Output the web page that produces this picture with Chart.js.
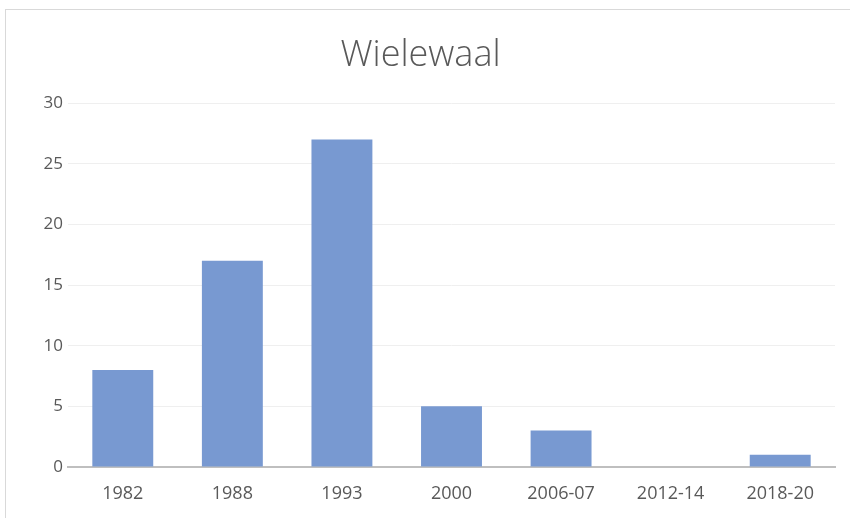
<!DOCTYPE html>
<html>
<head>
<meta charset="utf-8">
<script src="https://cdn.jsdelivr.net/npm/chart.js@4"></script>
<style>
  html, body { margin: 0; padding: 0; background: #fff; }
  #wrap {
    position: absolute; left: 5px; top: 9px;
    width: 845px; height: 509px;
    border-top: 1px solid #d9d9d9; border-left: 1px solid #d9d9d9;
    box-sizing: border-box;
  }
</style>
</head>
<body>
<div id="wrap"><canvas id="chart" width="844" height="508"></canvas></div>
<script>
// data
const periods = ['1982', '1988', '1993', '2000', '2006-07', '2012-14', '2018-20'];
const counts = [8, 17, 27, 5, 3, 0, 1];
const yTicks = [0, 5, 10, 15, 20, 25, 30];

const ctx = document.getElementById('chart').getContext('2d');
new Chart(ctx, {
  type: 'bar',
  data: {
    labels: periods,
    datasets: [{
      label: 'Wielewaal',
      data: counts,
      backgroundColor: '#7899d1',
      borderWidth: 0,
      barPercentage: 0.556,
      categoryPercentage: 1
    }]
  },
  options: {
    responsive: false,
    animation: false,
    layout: { padding: { left: 0, right: 15, top: 0, bottom: 0 } },
    plugins: {
      legend: { display: false },
      tooltip: { enabled: false },
      title: {
        display: true,
        text: 'Wielewaal',
        color: '#595959',
        font: { family: 'Open Sans', size: 36, weight: '300' },
        padding: { top: 24, bottom: 26 }
      }
    },
    scales: {
      x: {
        grid: { display: false, drawTicks: false },
        border: { display: true, color: '#bfbfbf', width: 2 },
        ticks: { color: '#595959', font: { family: 'Open Sans', size: 18 }, padding: 16 },
        afterFit: s => { s.height = 51; }
      },
      y: {
        min: 0, max: 30,
        afterBuildTicks: s => { s.ticks = yTicks.map(v => ({ value: v })); },
        grid: { color: '#efefef', drawTicks: false },
        border: { display: false },
        ticks: { color: '#595959', font: { family: 'Open Sans', size: 17 }, padding: 5 },
        afterFit: s => { s.width = 62; }
      }
    }
  }
});
</script>
</body>
</html>
